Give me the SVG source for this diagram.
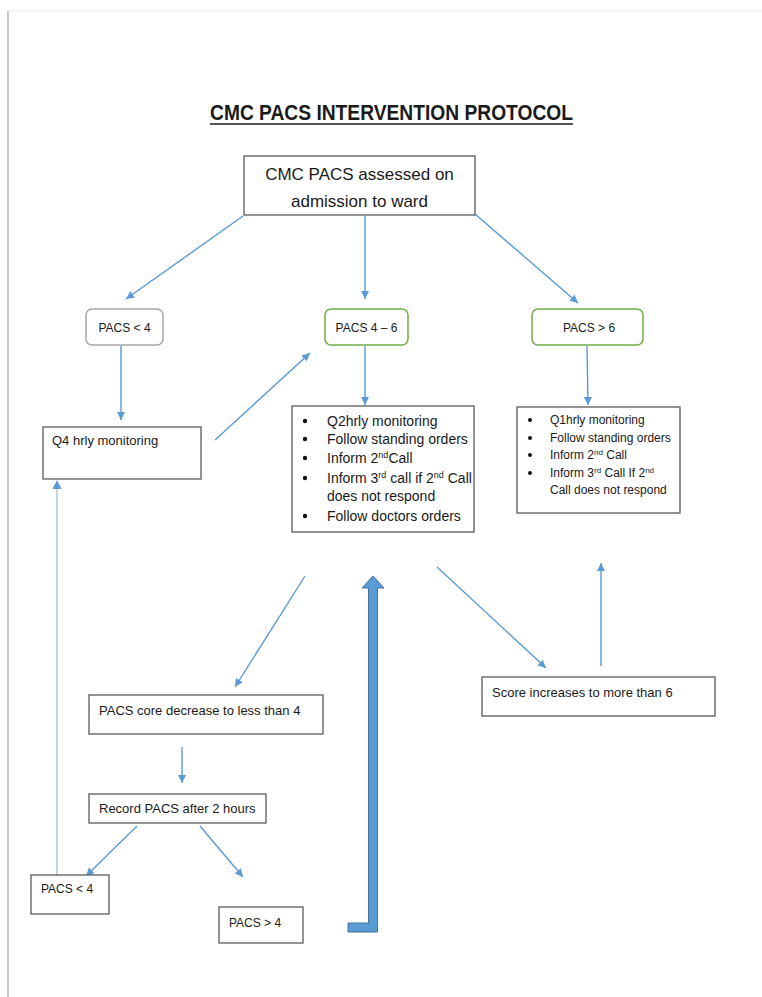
<svg xmlns="http://www.w3.org/2000/svg" width="762" height="997" viewBox="0 0 762 997">
<style>
.t{font-family:"Liberation Sans",Arial,sans-serif;fill:#1a1a1a}
.box{fill:#fff;stroke:#5a5a5a;stroke-width:1.3}
.gray{fill:#fff;stroke:#a6a6a6;stroke-width:1.5}
.green{fill:#fff;stroke:#70ad47;stroke-width:1.5}
.c{fill:none;stroke:#5b9bd5;stroke-width:1.4;marker-end:url(#ah)}
.b{fill:#111}
</style>
<defs>
<marker id="ah" viewBox="0 0 10 10" refX="10" refY="5" markerWidth="10" markerHeight="8" markerUnits="userSpaceOnUse" orient="auto">
<path d="M0,0 L10,5 L0,10 z" fill="#5b9bd5"/>
</marker>
</defs>
<rect width="762" height="997" fill="#fff"/>
<line x1="8" y1="11" x2="762" y2="11" stroke="#ececec" stroke-width="1"/>
<line x1="8" y1="11" x2="8" y2="997" stroke="#c8c8c8" stroke-width="2"/>

<g id="title">
<text class="t" x="210" y="120" font-size="22" font-weight="bold" textLength="363" lengthAdjust="spacingAndGlyphs">CMC PACS INTERVENTION PROTOCOL</text>
<line x1="210" y1="124" x2="573" y2="124" stroke="#1a1a1a" stroke-width="1.5"/>
</g>

<g id="connectors">
<line class="c" x1="243" y1="216" x2="126" y2="299"/>
<line class="c" x1="365" y1="216" x2="365" y2="299"/>
<line class="c" x1="475" y1="214" x2="578" y2="303"/>
<line class="c" x1="121" y1="346" x2="121" y2="420"/>
<line class="c" x1="215" y1="440" x2="310" y2="353"/>
<line class="c" x1="365" y1="346" x2="365" y2="405"/>
<line class="c" x1="587" y1="346" x2="588" y2="405"/>
<line class="c" x1="305" y1="576" x2="235" y2="687"/>
<line class="c" x1="437" y1="567" x2="546" y2="668"/>
<line class="c" x1="601" y1="666" x2="601" y2="563"/>
<line class="c" x1="182" y1="747" x2="182" y2="783"/>
<line class="c" x1="137" y1="826" x2="86" y2="876"/>
<line class="c" x1="200" y1="826" x2="243" y2="877"/>
<line x1="57" y1="875" x2="57" y2="484" stroke="#a9c6d8" stroke-width="1.4"/>
<path d="M57,480 L52.5,489 L61.5,489 z" fill="#5b9bd5"/>
<path d="M373,576 L384,588 L377.5,588 L377.5,932 L348,932 L348,923 L368.5,923 L368.5,588 L362,588 z" fill="#5b9bd5" stroke="#41719c" stroke-width="1"/>
</g>

<g id="n-top">
<rect class="box" x="244" y="156" width="231" height="59"/>
<text class="t" x="359.5" y="180" font-size="17" text-anchor="middle">CMC PACS assessed on</text>
<text class="t" x="359.5" y="207" font-size="17" text-anchor="middle">admission to ward</text>
</g>

<g id="n-pacs-lt4">
<rect class="gray" x="86" y="309" width="77" height="36" rx="6"/>
<text class="t" x="124.5" y="332" font-size="12" text-anchor="middle">PACS &lt; 4</text>
</g>

<g id="n-pacs-4-6">
<rect class="green" x="325" y="309" width="83" height="36" rx="6"/>
<text class="t" x="366.5" y="332" font-size="12" text-anchor="middle">PACS 4 – 6</text>
</g>

<g id="n-pacs-gt6">
<rect class="green" x="532" y="309" width="111" height="36" rx="6"/>
<text class="t" x="589" y="332" font-size="12" text-anchor="middle">PACS &gt; 6</text>
</g>

<g id="n-q4">
<rect class="box" x="43" y="427" width="158" height="52"/>
<text class="t" x="52" y="445" font-size="13">Q4 hrly monitoring</text>
</g>

<g id="n-q2">
<rect class="box" x="292" y="406" width="182" height="126"/>
<circle class="b" cx="305" cy="421" r="2.2"/>
<circle class="b" cx="305" cy="439" r="2.2"/>
<circle class="b" cx="305" cy="458" r="2.2"/>
<circle class="b" cx="305" cy="478" r="2.2"/>
<circle class="b" cx="305" cy="516" r="2.2"/>
<text class="t" x="327" y="426" font-size="14">Q2hrly monitoring</text>
<text class="t" x="327" y="444" font-size="14">Follow standing orders</text>
<text class="t" x="327" y="463" font-size="14">Inform 2<tspan font-size="9" dy="-5">nd</tspan><tspan dy="5">Call</tspan></text>
<text class="t" x="327" y="483" font-size="14">Inform 3<tspan font-size="9" dy="-5">rd</tspan><tspan dy="5"> call if 2</tspan><tspan font-size="9" dy="-5">nd</tspan><tspan dy="5"> Call</tspan></text>
<text class="t" x="327" y="501" font-size="14">does not respond</text>
<text class="t" x="327" y="521" font-size="14">Follow doctors orders</text>
</g>

<g id="n-q1">
<rect class="box" x="517" y="407" width="163" height="106"/>
<circle class="b" cx="530" cy="420" r="2"/>
<circle class="b" cx="530" cy="438" r="2"/>
<circle class="b" cx="530" cy="455" r="2"/>
<circle class="b" cx="530" cy="473" r="2"/>
<text class="t" x="550" y="424" font-size="12">Q1hrly monitoring</text>
<text class="t" x="550" y="442" font-size="12">Follow standing orders</text>
<text class="t" x="550" y="459" font-size="12">Inform 2<tspan font-size="8" dy="-4">nd</tspan><tspan dy="4"> Call</tspan></text>
<text class="t" x="550" y="477" font-size="12">Inform 3<tspan font-size="8" dy="-4">rd</tspan><tspan dy="4"> Call If 2</tspan><tspan font-size="8" dy="-4">nd</tspan></text>
<text class="t" x="550" y="494" font-size="12">Call does not respond</text>
</g>

<g id="n-decrease">
<rect class="box" x="89" y="695" width="234" height="39"/>
<text class="t" x="99" y="715" font-size="13">PACS core decrease to less than 4</text>
</g>

<g id="n-increase">
<rect class="box" x="482" y="677" width="233" height="39"/>
<text class="t" x="492" y="697" font-size="13">Score increases to more than 6</text>
</g>

<g id="n-record">
<rect class="box" x="89" y="794" width="177" height="29"/>
<text class="t" x="99" y="813" font-size="13">Record PACS after 2 hours</text>
</g>

<g id="n-lt4-b">
<rect class="box" x="31" y="875" width="78" height="39"/>
<text class="t" x="41" y="893" font-size="12">PACS &lt; 4</text>
</g>

<g id="n-gt4-b">
<rect class="box" x="219" y="907" width="84" height="36"/>
<text class="t" x="229" y="927" font-size="12">PACS &gt; 4</text>
</g>
</svg>
